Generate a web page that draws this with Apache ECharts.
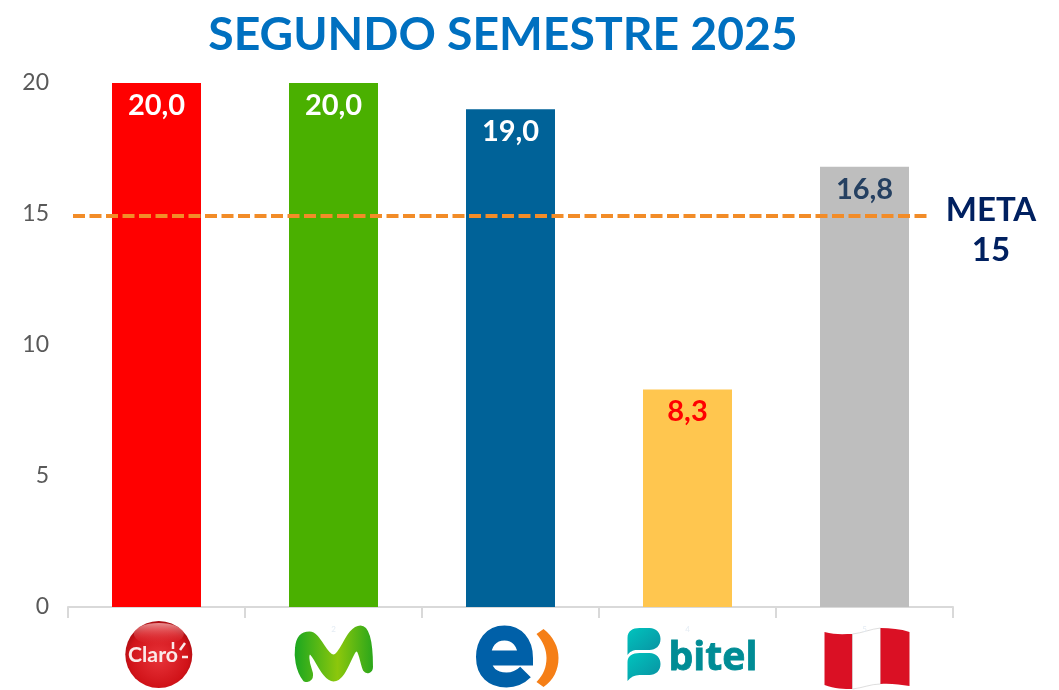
<!DOCTYPE html>
<html>
<head>
<meta charset="utf-8">
<title>Segundo semestre 2025</title>
<script src="https://cdn.jsdelivr.net/npm/echarts@6/dist/echarts.min.js"></script>
<style>
  html, body { margin: 0; padding: 0; background: #fff; }
  #chart { width: 1059px; height: 690px; }
</style>
</head>
<body>
<div id="chart"></div>
<script>
var categorias = ["1", "2", "3", "4", "5"];
var valores = [20, 20, 19, 8.3, 16.8];
var coloresBarra = ["#FF0000", "#4AB000", "#006298", "#FFC64F", "#BEBEBE"];
var coloresEtiqueta = ["#FFFFFF", "#FFFFFF", "#FFFFFF", "#FF0000", "#254061"];
var meta = 14.93;

// logos dibujados a mano, cada uno en una caja de 140x70
var logos = {
  claro: '<defs><radialGradient id="c" cx="50%" cy="55%" r="55%"><stop offset="0" stop-color="#E8343A"/><stop offset="0.8" stop-color="#D01218"/><stop offset="1" stop-color="#A80D12"/></radialGradient>' +
    '<linearGradient id="h" x1="0" y1="0" x2="0" y2="1"><stop offset="0" stop-color="#F6B0B0" stop-opacity="0.8"/><stop offset="1" stop-color="#E8343A" stop-opacity="0"/></linearGradient></defs>' +
    '<circle cx="72.3" cy="34.5" r="33.5" fill="url(#c)"/><ellipse cx="72.3" cy="14" rx="25" ry="11" fill="url(#h)"/>' +
    '<text x="41.5" y="42" font-family="Lato" font-weight="700" font-size="21" textLength="50" lengthAdjust="spacingAndGlyphs" fill="#FBE9E9">Claro</text>' +
    '<path d="M86.5 22v7M98.5 23l-5 7M95.5 37h6" stroke="#FBE9E9" stroke-width="2.5" fill="none"/>',
  movistar: '<defs><linearGradient id="m" x1="0" y1="0" x2="1" y2="0"><stop offset="0" stop-color="#1FA81F"/><stop offset="0.55" stop-color="#8CC70C"/><stop offset="1" stop-color="#2FA81A"/></linearGradient></defs>' +
    '<path d="M41 60C33 50 32 35 33 28C34 16 40 13 46 13C56 13 62 36 70 36C78 36 84 7 97 7C105 7 108 25 108 47C108 52 103 53 101 50C98 44 97 30 93 30C88 30 82 60 70 60C60 60 52 36 47 33C43 32 44 42 47 50C50 58 46 62 41 60Z" fill="url(#m)" stroke="url(#m)" stroke-width="3" stroke-linejoin="round"/>',
  entel: '<path d="M43 38H85C85 22 76 13 64 13C50 13 43 24 43 37C43 52 52 60 66 60C74 60 80 57 85 52" stroke="#0060A8" stroke-width="15" fill="none"/>' +
    '<path d="M96 14L103 9C113 17 118 27 118 38C118 50 113 60 103 67L96 62C103 55 106 47 106 38C106 30 103 22 96 14Z" fill="#F57F17"/>',
  bitel: '<defs><linearGradient id="b" x1="0" y1="0" x2="1" y2="1"><stop offset="0" stop-color="#00C4BE"/><stop offset="1" stop-color="#0A8FA0"/></linearGradient></defs>' +
    '<path d="M10 18C10 11 15 8 22 8H32C39 8 43 13 43 19C43 26 38 30 32 30H20C15 30 12 32 10 35Z" fill="url(#b)"/>' +
    '<path d="M10 42C10 36 15 33 22 33H32C39 33 43 38 43 44C43 51 38 55 32 55H22C17 55 13 57 10 61Z" fill="url(#b)"/>' +
    '<text x="51" y="50" font-family="Open Sans" font-weight="700" font-size="39" textLength="89" lengthAdjust="spacingAndGlyphs" fill="#008C95" stroke="#008C95" stroke-width="0.8">bitel</text>',
  peru: '<path d="M30 12C40 15 50 14 58 14V69C50 69 40 69 30 65Z" fill="#DA1024"/>' +
    '<path d="M58 14C68 13 76 9 86 8V64C76 64 68 68 58 69Z" fill="#FFFFFF" stroke="#C8C8C8" stroke-width="0.6"/>' +
    '<path d="M86 8C96 8 106 9 115 12V66C106 65 96 63 86 64Z" fill="#DA1024"/>'
};
var logosOrden = ["claro", "movistar", "entel", "bitel", "peru"];
// el numero de categoria apenas se ve detras de los logos 2, 4 y 5
var coloresCategoria = ["transparent", "#E4ECF4", "transparent", "#E4ECF4", "#E4ECF4"];

function logoUri(nombre) {
  var svg = '<svg xmlns="http://www.w3.org/2000/svg" width="140" height="70" viewBox="0 0 140 70">' + logos[nombre] + '</svg>';
  return "data:image/svg+xml;charset=utf-8," + encodeURIComponent(svg);
}

var richLogos = {};
logosOrden.forEach(function (nombre, i) {
  richLogos[nombre] = {
    width: 140,
    height: 18,
    padding: [0, 0, 52, 0],
    align: "center",
    fontSize: 8,
    color: coloresCategoria[i],
    backgroundColor: { image: logoUri(nombre) }
  };
});

var myChart = echarts.init(document.getElementById("chart"));
myChart.setOption({
  animation: false,
  backgroundColor: "#fff",
  textStyle: { fontFamily: "Lato" },
  title: {
    text: "SEGUNDO SEMESTRE 2025",
    left: 498,
    top: 7,
    textAlign: "center",
    textStyle: { color: "#0070C0", fontSize: 46.3, fontWeight: "bold", fontFamily: "Lato" }
  },
  grid: { left: 68, right: 106, top: 83, bottom: 83 },
  xAxis: {
    type: "category",
    data: categorias,
    axisLine: { lineStyle: { color: "#D9D9D9", width: 2 } },
    axisTick: { show: true, length: 11, lineStyle: { color: "#D9D9D9", width: 2 } },
    axisLabel: {
      interval: 0,
      margin: 13,
      hideOverlap: false,
      rich: richLogos,
      formatter: function (value) {
        return "{" + logosOrden[categorias.indexOf(value)] + "|" + value + "}";
      }
    }
  },
  yAxis: {
    type: "value",
    min: 0,
    max: 20,
    interval: 5,
    axisLine: { show: false },
    axisTick: { show: false },
    splitLine: { show: false },
    axisLabel: { color: "#595959", fontSize: 23, margin: 19 }
  },
  series: [
    {
      type: "bar",
      barWidth: 89,
      data: valores.map(function (v, i) {
        return {
          value: v,
          itemStyle: { color: coloresBarra[i] },
          label: { color: coloresEtiqueta[i] }
        };
      }),
      label: {
        show: true,
        position: "insideTop",
        distance: 8,
        fontSize: 29,
        fontWeight: "bold",
        formatter: function (p) {
          return p.value.toFixed(1).replace(".", ",");
        }
      },
      markLine: {
        silent: true,
        symbol: "none",
        lineStyle: { color: "#F28C28", width: 4, type: [12, 4.5] },
        label: { show: false },
        data: [[{ yAxis: meta, x: 73 }, { yAxis: meta, x: 930 }]]
      }
    }
  ],
  graphic: [
    {
      type: "text",
      x: 991,
      y: 190,
      style: {
        text: "META\n15",
        align: "center",
        fill: "#002060",
        font: "bold 33px Lato",
        lineHeight: 40
      }
    }
  ]
});
</script>
</body>
</html>
